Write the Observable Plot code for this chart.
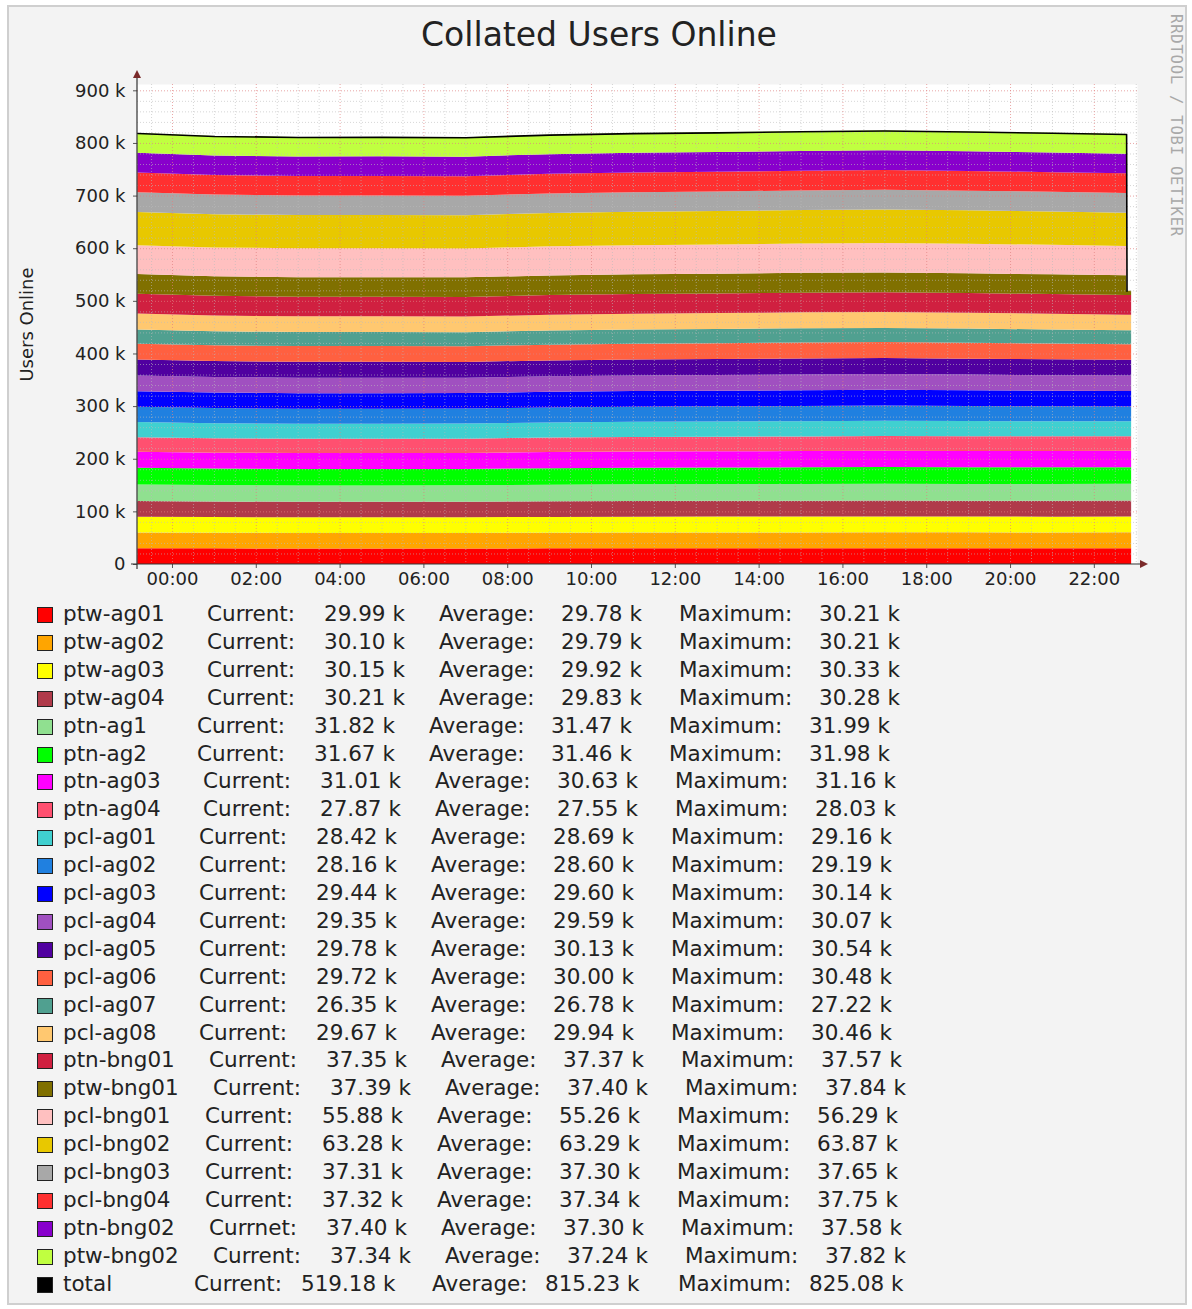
<!DOCTYPE html>
<html><head><meta charset="utf-8">
<script src="https://cdn.jsdelivr.net/npm/d3@7"></script>
<script src="https://cdn.jsdelivr.net/npm/@observablehq/plot@0.6"></script>
<style>
body{margin:0;background:#fff;font-family:"DejaVu Sans",sans-serif;width:1192px;height:1309px;position:relative;overflow:hidden;}
#frame{position:absolute;left:7px;top:5px;width:1180px;height:1300px;border:2px solid #cfcfcf;background:#f3f3f3;box-sizing:border-box;}
#title{position:absolute;left:0;width:1198px;top:15px;text-align:center;font-size:33px;color:#222;}
#credit{position:absolute;left:1167px;top:14px;writing-mode:vertical-rl;font-family:"DejaVu Sans Mono",monospace;font-size:15.5px;color:#a8a8a8;letter-spacing:0.8px;}
#chart{position:absolute;left:0;top:60px;}
.t{position:absolute;font-size:21.5px;color:#222;white-space:nowrap;line-height:26px;}
.sw{position:absolute;left:37px;width:14px;height:14px;border:1px solid #222;}
</style></head><body>
<div id="frame"></div>
<div id="title">Collated Users Online</div>
<div id="credit">RRDTOOL / TOBI OETIKER</div>
<div id="chart"></div>
<div id="legend"></div>
<script>
// ---- time knots (hours from 00:00) ----
const times = [-0.83, 1, 3, 5, 7, 9, 11, 13, 15, 17, 19, 21, 22.77, 22.78, 22.89];

const seriesNames = ["ptw-ag01","ptw-ag02","ptw-ag03","ptw-ag04","ptn-ag1","ptn-ag2","ptn-ag03","ptn-ag04",
  "pcl-ag01","pcl-ag02","pcl-ag03","pcl-ag04","pcl-ag05","pcl-ag06","pcl-ag07","pcl-ag08",
  "ptn-bng01","ptw-bng01","pcl-bng01","pcl-bng02","pcl-bng03","pcl-bng04","ptn-bng02","ptw-bng02"];

const seriesColors = ["#ff0000","#ffa500","#ffff00","#b03a4a","#90e090","#00ff00","#ff00ff","#ff5070",
  "#40d0d0","#2080e0","#0000ff","#a050c0","#5000a0","#ff6040","#50a090","#ffc870",
  "#d02040","#807000","#ffc0c0","#e8c800","#a8a8a8","#ff3030","#8800cc","#c0ff40"];

// ---- values in k users, one array per series ----
const vPtwAg01  = [29.9, 29.7, 29.5, 29.5, 29.5, 29.7, 29.9, 30.0, 30.0, 30.1, 30.0, 29.9, 29.99, 29.99, 29.99];
const vPtwAg02  = [29.8, 29.6, 29.5, 29.5, 29.6, 29.8, 29.9, 30.0, 30.0, 30.1, 30.1, 30.0, 30.10, 30.10, 30.10];
const vPtwAg03  = [30.0, 29.8, 29.7, 29.7, 29.7, 29.9, 30.0, 30.1, 30.1, 30.2, 30.2, 30.1, 30.15, 30.15, 30.15];
const vPtwAg04  = [29.9, 29.7, 29.5, 29.5, 29.5, 29.8, 30.0, 30.0, 30.1, 30.1, 30.1, 30.1, 30.21, 30.21, 30.21];
const vPtnAg1   = [31.5, 31.2, 31.1, 31.1, 31.2, 31.5, 31.6, 31.7, 31.8, 31.8, 31.8, 31.8, 31.82, 31.82, 31.82];
const vPtnAg2   = [31.6, 31.3, 31.2, 31.2, 31.2, 31.4, 31.6, 31.6, 31.7, 31.8, 31.7, 31.7, 31.67, 31.67, 31.67];
const vPtnAg03  = [30.6, 30.3, 30.3, 30.3, 30.3, 30.6, 30.7, 30.8, 30.9, 31.0, 31.0, 31.0, 31.01, 31.01, 31.01];
const vPtnAg04  = [27.6, 27.3, 27.2, 27.2, 27.2, 27.5, 27.6, 27.7, 27.8, 27.9, 27.9, 27.9, 27.87, 27.87, 27.87];
const vPclAg01  = [28.9, 28.7, 28.6, 28.6, 28.6, 28.7, 28.8, 28.8, 28.9, 29.0, 28.8, 28.6, 28.42, 28.42, 28.42];
const vPclAg02  = [28.8, 28.6, 28.5, 28.5, 28.5, 28.6, 28.7, 28.8, 28.9, 29.0, 28.7, 28.4, 28.16, 28.16, 28.16];
const vPclAg03  = [29.8, 29.6, 29.5, 29.5, 29.4, 29.6, 29.7, 29.8, 29.9, 30.0, 29.8, 29.6, 29.44, 29.44, 29.44];
const vPclAg04  = [29.8, 29.6, 29.5, 29.5, 29.4, 29.6, 29.7, 29.8, 29.9, 29.9, 29.8, 29.6, 29.35, 29.35, 29.35];
const vPclAg05  = [30.3, 30.1, 30.0, 30.0, 29.9, 30.1, 30.2, 30.3, 30.4, 30.4, 30.3, 30.1, 29.78, 29.78, 29.78];
const vPclAg06  = [30.2, 30.0, 29.9, 29.9, 29.8, 30.0, 30.1, 30.2, 30.3, 30.3, 30.2, 30.0, 29.72, 29.72, 29.72];
const vPclAg07  = [27.0, 26.8, 26.7, 26.7, 26.6, 26.8, 26.9, 27.0, 27.1, 27.0, 26.9, 26.7, 26.35, 26.35, 26.35];
const vPclAg08  = [30.1, 29.9, 29.8, 29.8, 29.7, 29.9, 30.0, 30.1, 30.3, 30.3, 30.2, 30.0, 29.67, 29.67, 29.67];
const vPtnBng01 = [37.5, 37.3, 37.3, 37.3, 37.3, 37.4, 37.4, 37.4, 37.5, 37.5, 37.4, 37.4, 37.35, 37.35, 37.35];
const vPtwBng01 = [37.7, 37.3, 37.2, 37.2, 37.2, 37.4, 37.5, 37.5, 37.6, 37.6, 37.5, 37.4, 37.39, 8.12, 8.12];
const vPclBng01 = [54.5, 54.7, 54.8, 54.9, 55.0, 55.2, 55.4, 55.5, 55.7, 55.9, 56.1, 56.1, 55.88, 0, 0];
const vPclBng02 = [63.5, 63.2, 63.1, 63.1, 63.1, 63.3, 63.4, 63.4, 63.5, 63.6, 63.5, 63.4, 63.28, 0, 0];
const vPclBng03 = [37.4, 37.2, 37.2, 37.2, 37.1, 37.3, 37.4, 37.4, 37.4, 37.5, 37.4, 37.3, 37.31, 0, 0];
const vPclBng04 = [37.5, 37.2, 37.2, 37.2, 37.1, 37.3, 37.4, 37.4, 37.5, 37.6, 37.5, 37.4, 37.32, 0, 0];
const vPtnBng02 = [37.3, 37.1, 37.1, 37.1, 37.1, 37.3, 37.4, 37.4, 37.4, 37.5, 37.4, 37.4, 37.40, 0, 0];
const vPtwBng02 = [37.6, 37.1, 37.0, 37.0, 36.9, 37.1, 37.3, 37.4, 37.4, 37.5, 37.5, 37.4, 37.34, 0, 0];

const seriesValues = [vPtwAg01,vPtwAg02,vPtwAg03,vPtwAg04,vPtnAg1,vPtnAg2,vPtnAg03,vPtnAg04,
  vPclAg01,vPclAg02,vPclAg03,vPclAg04,vPclAg05,vPclAg06,vPclAg07,vPclAg08,
  vPtnBng01,vPtwBng01,vPclBng01,vPclBng02,vPclBng03,vPclBng04,vPtnBng02,vPtwBng02];

// ---- legend statistics ----
const legendNames = [...seriesNames, "total"];
const legendColors = [...seriesColors, "#000000"];
const currentWords = ["Current:","Current:","Current:","Current:","Current:","Current:","Current:","Current:",
  "Current:","Current:","Current:","Current:","Current:","Current:","Current:","Current:",
  "Current:","Current:","Current:","Current:","Current:","Current:","Currnet:","Current:","Current:"];
const currentVals = ["29.99","30.10","30.15","30.21","31.82","31.67","31.01","27.87","28.42","28.16","29.44","29.35",
  "29.78","29.72","26.35","29.67","37.35","37.39","55.88","63.28","37.31","37.32","37.40","37.34","519.18"];
const averageVals = ["29.78","29.79","29.92","29.83","31.47","31.46","30.63","27.55","28.69","28.60","29.60","29.59",
  "30.13","30.00","26.78","29.94","37.37","37.40","55.26","63.29","37.30","37.34","37.30","37.24","815.23"];
const maximumVals = ["30.21","30.21","30.33","30.28","31.99","31.98","31.16","28.03","29.16","29.19","30.14","30.07",
  "30.54","30.48","27.22","30.46","37.57","37.84","56.29","63.87","37.65","37.75","37.58","37.82","825.08"];

const xTicks = [0, 2, 4, 6, 8, 10, 12, 14, 16, 18, 20, 22];
const yTicks = [0, 100, 200, 300, 400, 500, 600, 700, 800, 900];

// ---- layout (not data) ----
const legendRowX = [207,207,207,207,197,197,203,203,199,199,199,199,199,199,199,199,209,213,205,205,205,205,209,213];
const legendColOffsets = [0,117,232,354,472,612];
const totalRowX = [194,301,432,545,678,809];

// ---- build tables ----
const long = [];
seriesNames.forEach((s, i) => times.forEach((t, j) => long.push({t, v: seriesValues[i][j], s, c: seriesColors[i]})));
const totals = times.slice(0, 14).map((t, j) => ({t, v: d3.sum(seriesValues, a => a[j])}));

const xDomain = [-0.835, 23.03];
const yDomain = [0, 912];
const minorX = d3.range(-0.5, 23.01, 0.5).filter(h => h % 2 !== 0);
const minorY = d3.range(20, 911, 20).filter(v => v % 100 !== 0);
const majorY = yTicks.slice(1);

const plot = Plot.plot({
  width: 1192, height: 540,
  marginTop: 24, marginBottom: 36, marginLeft: 137, marginRight: 55,
  style: {background: "transparent", fontFamily: "DejaVu Sans, sans-serif", fontSize: "18px", color: "#222", overflow: "visible"},
  x: {domain: xDomain},
  y: {domain: yDomain},
  marks: [
    Plot.frame({fill: "#ffffff", stroke: null}),
    Plot.areaY(long, {x: "t", y: "v", z: "s", fill: "c", curve: "linear"}),
    Plot.ruleX(minorX, {stroke: "#bbbbbb", strokeDasharray: "1,2", strokeOpacity: 0.6}),
    Plot.ruleY(minorY, {stroke: "#bbbbbb", strokeDasharray: "1,2", strokeOpacity: 0.6}),
    Plot.ruleX(xTicks, {stroke: "#e08080", strokeDasharray: "1,2", strokeOpacity: 0.7}),
    Plot.ruleY(majorY, {stroke: "#e08080", strokeDasharray: "1,2", strokeOpacity: 0.7}),
    Plot.lineY(totals, {x: "t", y: "v", stroke: "#000", strokeWidth: 1.6}),
    Plot.axisX({ticks: xTicks, tickFormat: h => String(h).padStart(2, "0") + ":00", tickSize: 4, tickPadding: 4, label: null, stroke: "#555"}),
    Plot.axisY({ticks: yTicks, tickFormat: v => v === 0 ? "0" : v + " k", tickSize: 4, tickPadding: 8, stroke: "#555",
      label: "Users Online", labelAnchor: "center", labelArrow: "none", labelOffset: 117})
  ]
});
document.getElementById("chart").appendChild(plot);

// axis lines with arrowheads (rrdtool style)
const xs = plot.scale("x"), ys = plot.scale("y");
const svg = d3.select(plot);
const x0 = xs.apply(xDomain[0]), y0 = ys.apply(0), yTop = ys.apply(yDomain[1]), xEnd = xs.apply(xDomain[1]);
svg.append("line").attr("x1", x0 - 6).attr("x2", xEnd + 4).attr("y1", y0).attr("y2", y0).attr("stroke", "#333").attr("stroke-width", 1.2);
svg.append("line").attr("x1", x0).attr("x2", x0).attr("y1", y0 + 5).attr("y2", yTop - 8).attr("stroke", "#333").attr("stroke-width", 1.2);
svg.append("path").attr("d", `M${xEnd + 3},${y0 - 4}L${xEnd + 11},${y0}L${xEnd + 3},${y0 + 4}Z`).attr("fill", "#7a2a2a");
svg.append("path").attr("d", `M${x0 - 4},${yTop - 6}L${x0},${yTop - 14}L${x0 + 4},${yTop - 6}Z`).attr("fill", "#7a2a2a");

// legend
const legend = document.getElementById("legend");
legendNames.forEach((name, i) => {
  const cy = 615 + 27.9 * i;
  const sw = document.createElement("div");
  sw.className = "sw"; sw.style.top = (cy - 8) + "px"; sw.style.background = legendColors[i];
  legend.appendChild(sw);
  const xsPos = i < 24 ? legendColOffsets.map(o => legendRowX[i] + o) : totalRowX;
  const texts = [name, currentWords[i], currentVals[i] + " k", "Average:", averageVals[i] + " k", "Maximum:", maximumVals[i] + " k"];
  const lefts = [63, ...xsPos];
  texts.forEach((tx, k) => {
    const d = document.createElement("div");
    d.className = "t"; d.textContent = tx; d.style.left = lefts[k] + "px"; d.style.top = (cy - 14) + "px";
    legend.appendChild(d);
  });
});
</script>
</body></html>
